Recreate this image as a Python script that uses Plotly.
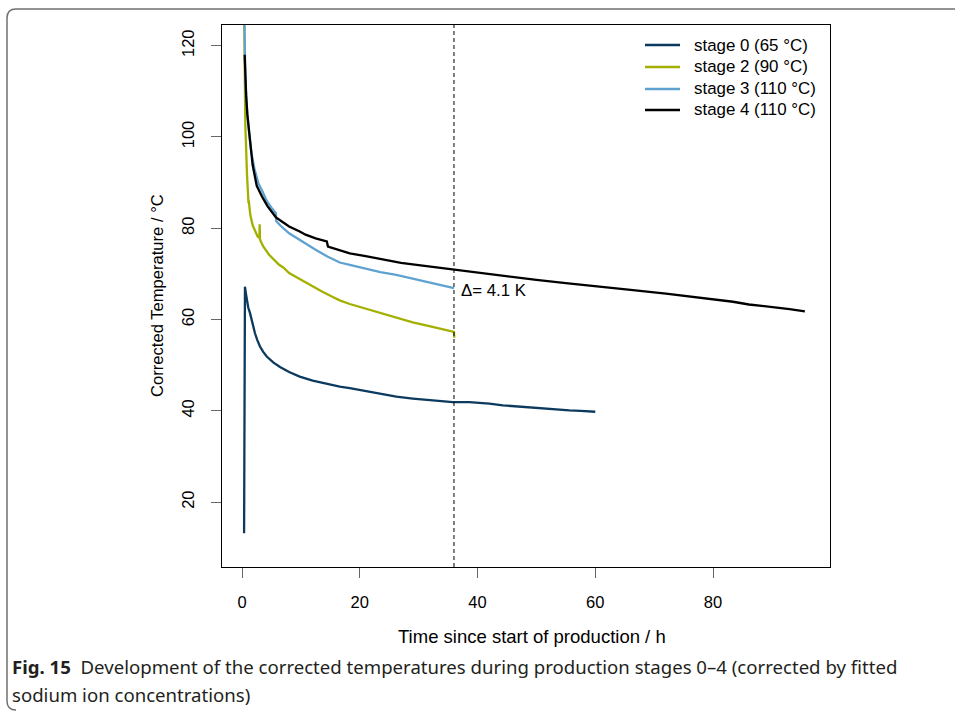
import plotly.graph_objects as go

# ---- data ----
x_stage0 = [0.35, 0.42, 0.5, 0.65, 0.8, 1.05, 1.36, 1.75, 2.2, 2.6, 3.05, 3.6, 4.2, 5.3, 6.45, 8.0, 9.8, 12.0,
            14.4, 16.6, 18.3, 21, 23.5, 26.2, 29, 32, 35.8, 38.6, 40.3, 42, 44.3, 47, 49.9, 52.5, 55.6, 57.5,
            59.5, 60.0]
y_stage0 = [13.2, 45, 67.2, 65.8, 64.3, 62.7, 61.4, 59.0, 57.0, 55.5, 54.1, 52.9, 51.9, 50.6, 49.6, 48.5,
            47.5, 46.6, 45.9, 45.3, 45.0, 44.3, 43.7, 43.1, 42.7, 42.3, 41.9, 41.9, 41.8, 41.6, 41.2, 40.9,
            40.6, 40.4, 40.1, 40.0, 39.8, 39.8]

x_stage2 = [0.38, 0.56, 0.85, 1.07, 1.1, 1.15, 1.4, 1.8, 2.2, 2.65, 2.95, 3.0, 3.05, 3.2, 3.6, 4.6, 5.5, 6.3,
            7.0, 8.0, 9.8, 11.5, 13.5, 15.5, 16.6, 18.3, 21, 23.5, 26.2, 29, 32, 35.5, 36.0, 36.05]
y_stage2 = [126, 102.6, 91.7, 86.6, 85.5, 86.0, 83.0, 80.7, 79.5, 78.2, 77.9, 80.9, 77.6, 77.1, 76.0, 74.2,
            73.0, 72.0, 71.4, 70.2, 68.9, 67.6, 66.2, 64.9, 64.2, 63.4, 62.4, 61.4, 60.3, 59.4, 58.5, 57.5,
            57.3, 56.0]

x_stage3 = [0.35, 0.45, 0.55, 0.68, 0.9, 1.24, 1.6, 2.1, 2.8, 3.5, 4.2, 5.0, 5.76, 5.8, 6.5, 8.0, 9.8, 10.8,
            12.5, 14.5, 16.6, 18.3, 21, 23.5, 26.2, 29, 32, 35.5, 36.0]
y_stage3 = [130, 120, 114, 109.9, 105, 100.4, 96.5, 93.1, 89.8, 88.0, 86.0, 84.5, 83.3, 81.6, 80.6, 78.9,
            77.4, 76.6, 75.3, 73.8, 72.5, 72.0, 71.1, 70.4, 69.8, 69.0, 68.2, 67.1, 66.9]

x_stage4 = [0.45, 0.55, 0.7, 0.9, 1.24, 1.8, 2.5, 2.9, 3.5, 4.35, 5.0, 5.76, 6.4, 8.0, 9.8, 10.8, 12.5, 14.4,
            14.6, 16.6, 18.3, 21, 24, 27, 30, 33, 35.8, 38.6, 40.3, 45, 50, 55, 60.7, 62.4, 66, 72, 78, 83.4,
            86.1, 90, 93, 95.6]
y_stage4 = [118, 113, 109, 105, 100.2, 93.9, 89.3, 88.2, 86.7, 84.8, 83.6, 82.4, 81.8, 80.4, 79.3, 78.6,
            77.8, 77.1, 76.0, 75.1, 74.5, 73.9, 73.1, 72.4, 71.9, 71.4, 71.0, 70.5, 70.2, 69.5, 68.7, 68.0,
            67.3, 67.0, 66.5, 65.7, 64.8, 63.9, 63.3, 62.8, 62.3, 61.8]

series_names = ["stage 0 (65 °C)", "stage 2 (90 °C)", "stage 3 (110 °C)", "stage 4 (110 °C)"]
series_colors = ["#0b3a5e", "#a3b000", "#5fa2d0", "#000000"]

x_ticks = [0, 20, 40, 60, 80]
y_ticks = [20, 40, 60, 80, 100, 120]
vline_x = 36
delta_label = "Δ= 4.1 K"
delta_pos = (36.9, 66.4)

# ---- layout geometry (pixels) ----
W, H = 955, 711
L, R, T, B = 222, 830, 25, 567
pw, ph = R - L, B - T


def px(x):
    return (x - L) / pw


def py(y):
    return (B - y) / ph


FONT = "Liberation Sans, Arial, Helvetica, sans-serif"

fig = go.Figure()
for xs, ys, name, col in zip([x_stage0, x_stage2, x_stage3, x_stage4],
                             [y_stage0, y_stage2, y_stage3, y_stage4],
                             series_names, series_colors):
    fig.add_trace(go.Scatter(x=xs, y=ys, mode="lines", name=name, showlegend=False,
                             line=dict(color=col, width=2.3)))

fig.update_layout(
    width=W, height=H,
    margin=dict(l=L, r=W - R, t=T, b=H - B),
    paper_bgcolor="white", plot_bgcolor="white",
    font=dict(family=FONT, size=16.5, color="black"),
    showlegend=False,
    xaxis=dict(range=[-3.40, 99.87], tickvals=x_ticks, ticks="outside", ticklen=10,
               tickcolor="#666", tickwidth=1, showgrid=False, zeroline=False,
               showline=True, linecolor="black", linewidth=1, mirror=True,
               ticklabelstandoff=10, tickfont=dict(size=16.5)),
    yaxis=dict(range=[5.79, 124.53], tickvals=y_ticks, ticks="outside", ticklen=10,
               tickcolor="#666", tickwidth=1, showgrid=False, zeroline=False,
               showline=True, linecolor="black", linewidth=1, mirror=True,
               tickangle=-90, ticklabelstandoff=10, tickfont=dict(size=16.5)),
)

# legend (drawn manually to match R's compact spacing)
legend_rows = [45, 67, 89, 110]
for name, col, yrow in zip(series_names, series_colors, legend_rows):
    fig.add_shape(type="line", xref="paper", yref="paper",
                  x0=px(645), x1=px(680), y0=py(yrow), y1=py(yrow),
                  line=dict(color=col, width=2.3))
    fig.add_annotation(x=px(692), y=py(yrow), xref="paper", yref="paper", text=name,
                       showarrow=False, xanchor="left", yanchor="middle",
                       font=dict(family=FONT, size=16.9, color="black"))

# dashed vertical line
fig.add_shape(type="line", xref="x", yref="paper", x0=vline_x, x1=vline_x, y0=0, y1=1,
              line=dict(color="black", width=1, dash="4px,3px"))

# delta annotation
fig.add_annotation(x=delta_pos[0], y=delta_pos[1], xref="x", yref="y", text=delta_label,
                   showarrow=False, xanchor="left", yanchor="middle",
                   font=dict(family=FONT, size=16.8, color="black"))

# axis titles
fig.add_annotation(x=px(532), y=py(636), xref="paper", yref="paper",
                   text="Time since start of production / h", showarrow=False,
                   xanchor="center", yanchor="middle", font=dict(family=FONT, size=18.5))
fig.add_annotation(x=px(157), y=py(296), xref="paper", yref="paper",
                   text="Corrected Temperature / °C", showarrow=False, textangle=-90,
                   xanchor="center", yanchor="middle", font=dict(family=FONT, size=16.6))

# caption
CAP = "Noto Sans, Lato, sans-serif"
fig.add_annotation(x=px(10), y=py(666), xref="paper", yref="paper",
                   text="<b>Fig. 15</b>  Development of the corrected temperatures during production stages 0–4 (corrected by fitted",
                   showarrow=False, xanchor="left", yanchor="middle",
                   font=dict(family=CAP, size=18.6, color="#231f20"))
fig.add_annotation(x=px(10), y=py(694), xref="paper", yref="paper",
                   text="sodium ion concentrations)",
                   showarrow=False, xanchor="left", yanchor="middle",
                   font=dict(family=CAP, size=18.6, color="#231f20"))

# outer figure frame (rounded corner at top-left)
path = (f"M {px(956)},{py(9)} L {px(16)},{py(9)} Q {px(7)},{py(9)} {px(7)},{py(18)} "
        f"L {px(7)},{py(701)} Q {px(7)},{py(710)} {px(16)},{py(710)}")
fig.add_shape(type="path", xref="paper", yref="paper", path=path,
              line=dict(color="#707070", width=1.5))

fig.write_html("out.html")
